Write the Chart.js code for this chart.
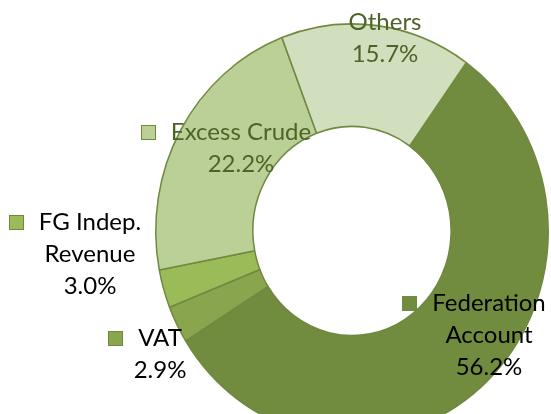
<!DOCTYPE html>
<html>
<head>
<meta charset="utf-8">
<script src="https://cdn.jsdelivr.net/npm/chart.js@4.4.1/dist/chart.umd.min.js"></script>
<style>
html,body{margin:0;padding:0;background:#fff;overflow:hidden;}
#wrap{width:551px;height:414px;overflow:hidden;position:relative;}
</style>
</head>
<body>
<div id="wrap"><canvas id="c" width="551" height="440"></canvas></div>
<script>
// ---- data ----
const categories = ["Federation Account", "VAT", "FG Indep. Revenue", "Excess Crude", "Others"];
const shares = [56.2, 2.9, 3.0, 22.2, 15.7];
const labelLines = [["Federation", "Account"], ["VAT"], ["FG Indep.", "Revenue"], ["Excess Crude"], ["Others"]];
const pctLabels = ["56.2%", "2.9%", "3.0%", "22.2%", "15.7%"];

// ---- styles / layout ----
const fills = ["#718B3F", "#89A64E", "#9BBB59", "#BBD097", "#D2DFBE"];
const edge = "#71893F";
const textColors = ["#000000", "#000000", "#000000", "#4F6228", "#4F6228"];
const showKey = [true, true, true, true, false];
// label anchor (center of first text line) relative to doughnut center, px
const labelOffsets = [[137, 72], [-192, 107], [-262, -9], [-111, -99], [33, -209]];
const KEY_GAP = 15, KEY_SIZE = 15;
const FONT = '24px Lato, "Noto Sans", sans-serif';
const LINE_H = 32;
const Y_STRETCH = 1.055;

const ellipse = {
  id: 'ellipse',
  beforeDatasetsDraw(chart) {
    const a = chart.getDatasetMeta(0).data[0];
    const ctx = chart.ctx;
    ctx.save();
    ctx.translate(a.x, a.y);
    ctx.scale(1, Y_STRETCH);
    ctx.translate(-a.x, -a.y);
  },
  afterDatasetsDraw(chart) {
    chart.ctx.restore();
  }
};

const labelsPlugin = {
  id: 'sliceLabels',
  afterDraw(chart) {
    const ctx = chart.ctx;
    const meta = chart.getDatasetMeta(0);
    const cx = meta.data[0].x, cy = meta.data[0].y;
    ctx.save();
    ctx.font = FONT;
    ctx.textAlign = 'center';
    ctx.textBaseline = 'middle';
    categories.forEach((c, i) => {
      const lx = cx + labelOffsets[i][0];
      const ly = cy + labelOffsets[i][1];
      const lines = labelLines[i].concat([pctLabels[i]]);
      if (showKey[i]) {
        const w = ctx.measureText(lines[0]).width;
        const kx = Math.round(lx - w / 2 - KEY_GAP - KEY_SIZE);
        const ky = Math.round(ly - KEY_SIZE / 2);
        ctx.fillStyle = fills[i];
        ctx.strokeStyle = edge;
        ctx.lineWidth = 1;
        ctx.fillRect(kx, ky, KEY_SIZE, KEY_SIZE);
        ctx.strokeRect(kx + 0.5, ky + 0.5, KEY_SIZE - 1, KEY_SIZE - 1);
      }
      ctx.fillStyle = textColors[i];
      lines.forEach((t, k) => {
        ctx.fillText(t, lx, ly + k * LINE_H);
      });
    });
    ctx.restore();
  }
};

new Chart(document.getElementById('c'), {
  type: 'doughnut',
  data: {
    labels: categories,
    datasets: [{
      data: shares,
      backgroundColor: fills,
      borderColor: edge,
      borderWidth: 1.5,
      borderAlign: 'center'
    }]
  },
  options: {
    responsive: false,
    animation: false,
    rotation: 35.6,
    cutout: '50.5%',
    layout: { padding: { left: 155, right: 2, top: 34, bottom: 12 } },
    plugins: { legend: { display: false }, tooltip: { enabled: false } },
    events: []
  },
  plugins: [ellipse, labelsPlugin]
});
</script>
</body>
</html>
